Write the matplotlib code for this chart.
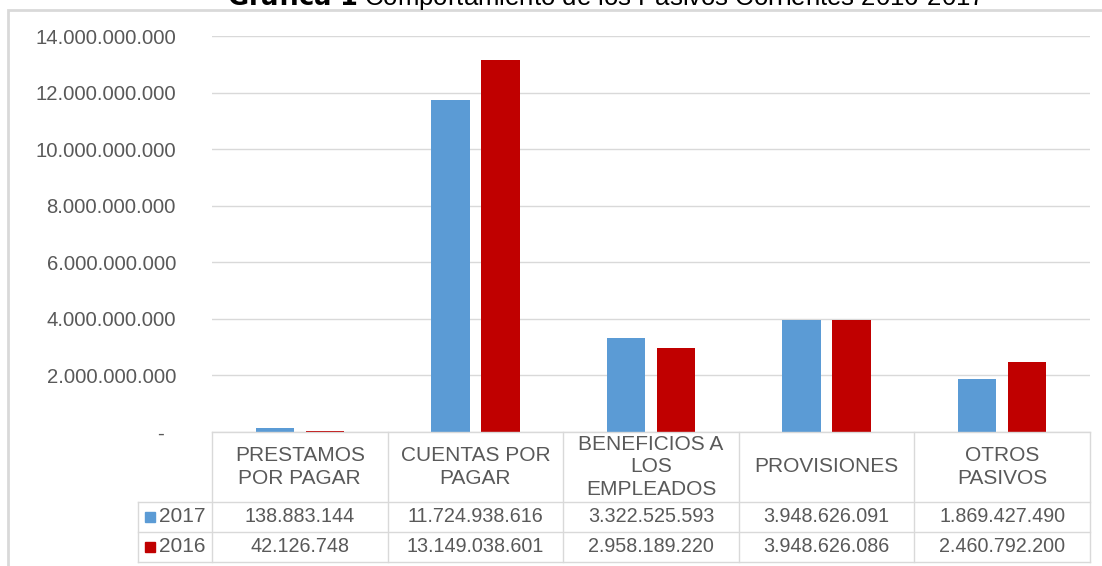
import matplotlib as mpl
import matplotlib.pyplot as plt
import numpy as np

#######
# Data

categorias = ["PRESTAMOS\nPOR PAGAR", "CUENTAS POR\nPAGAR", "BENEFICIOS A\nLOS\nEMPLEADOS",
              "PROVISIONES", "OTROS\nPASIVOS"]
anios = ["2017", "2016"]
v2017 = [138883144, 11724938616, 3322525593, 3948626091, 1869427490]
v2016 = [42126748, 13149038601, 2958189220, 3948626086, 2460792200]
yticks = [0, 2e9, 4e9, 6e9, 8e9, 10e9, 12e9, 14e9]

#######
# Style

mpl.rcParams['font.family'] = ['Liberation Sans', 'DejaVu Sans']
c_blue = "#5B9BD5"
c_red = "#C00000"
c_text = "#595959"
c_grid = "#D9D9D9"

def miles(v):
    if v == 0:
        return "-  "
    return f"{int(round(v)):,}".replace(",", ".")

W, H = 1102, 566
fig = plt.figure(figsize=(W / 100, H / 100), dpi=100)

# plot area in pixels
x0, x1, ytop, ybot = 212, 1090, 36, 432
ax = fig.add_axes([x0 / W, 1 - ybot / H, (x1 - x0) / W, (ybot - ytop) / H])

x = np.arange(len(categorias))
bw = 0.218
ax.bar(x - 0.285 / 2, v2017, width=bw, color=c_blue, label=anios[0])
ax.bar(x + 0.285 / 2, v2016, width=bw, color=c_red, label=anios[1])

ax.set_xlim(-0.5, len(categorias) - 0.5)
ax.set_ylim(0, 14e9)
ax.set_yticks(yticks)
ax.set_yticklabels([miles(v) for v in yticks])
ax.set_xticks([])
ax.tick_params(axis='y', length=0, pad=26, labelsize=14.6, labelcolor=c_text)
for s in ax.spines.values():
    s.set_visible(False)
ax.grid(axis='y', color=c_grid, linewidth=1)
ax.set_axisbelow(True)

#######
# Data table under the chart

ph = ybot - ytop
def ya(p):
    return (ybot - p) / ph

y_hdr = ya(502)
y_r1 = ya(532)
y_r2 = ya(562)
xl = -0.5 - 74 / ((x1 - x0) / len(categorias))
trans = ax.get_xaxis_transform()
lkw = dict(color=c_grid, linewidth=1, transform=trans, clip_on=False)

ax.plot([-0.5, len(categorias) - 0.5], [0, 0], **lkw)
for yy in [y_hdr, y_r1, y_r2]:
    ax.plot([xl, len(categorias) - 0.5], [yy, yy], **lkw)
for i in range(len(categorias) + 1):
    ax.plot([i - 0.5, i - 0.5], [0, y_r2], **lkw)
ax.plot([xl, xl], [y_hdr, y_r2], **lkw)

tkw = dict(transform=trans, clip_on=False, color=c_text,
           ha='center', va='center')
for i, cat in enumerate(categorias):
    ax.text(i, y_hdr / 2, cat, linespacing=1.25, fontsize=15, **tkw)
    ax.text(i, (y_hdr + y_r1) / 2, miles(v2017[i]), fontsize=14.2, **tkw)
    ax.text(i, (y_r1 + y_r2) / 2, miles(v2016[i]), fontsize=14.2, **tkw)

for yy, lab, col in [((y_hdr + y_r1) / 2, anios[0], c_blue), ((y_r1 + y_r2) / 2, anios[1], c_red)]:
    ax.plot([xl + 0.067], [yy], marker='s', markersize=7, color=col,
            transform=trans, clip_on=False)
    ax.text(xl + 0.12, yy, lab, transform=trans, clip_on=False, color=c_text,
            fontsize=15, ha='left', va='center')

#######
# Chart frame and title

fig.patches.append(mpl.patches.Rectangle((8 / W, -0.1), 1.2, 1 - 10 / H + 0.1,
                                         transform=fig.transFigure, fill=False,
                                         edgecolor=c_grid, linewidth=2))
fig.text(0.55, 1 - 5 / H, r"$\bf{Gráfica\ 1}$ Comportamiento de los Pasivos Corrientes 2016-2017",
         ha='center', va='baseline', fontsize=18.5, color='black')

plt.savefig("out.png", dpi=100)
